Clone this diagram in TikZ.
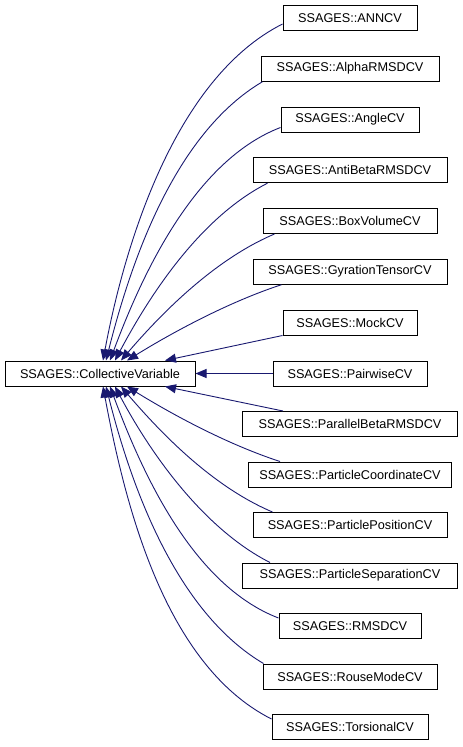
\documentclass[tikz,border=0pt]{standalone}
\usepackage{fontspec}
\setmainfont{Liberation Sans}
\usetikzlibrary{arrows.meta}
\definecolor{edgeblue}{RGB}{25,25,112}
\tikzset{
  cls/.style={draw=black, line width=1pt, minimum height=25pt, inner sep=0pt,
    font=\fontsize{12.7}{15}\selectfont},
  inh/.style={draw=edgeblue, line width=0.9pt, -{Triangle[length=11pt,width=9pt]}},
}
\begin{document}
\begin{tikzpicture}[x=1pt,y=-1pt]
  \useasboundingbox (0,0) rectangle (463,747);
  \node[cls, minimum width=190pt] (cv) at (100,373.5) {SSAGES::CollectiveVariable};
  \node[cls, minimum width=134pt] (ann) at (350,18) {SSAGES::ANNCV};
  \node[cls, minimum width=178pt] (alpha) at (350,68.7) {SSAGES::AlphaRMSDCV};
  \node[cls, minimum width=138pt] (angle) at (350,119.5) {SSAGES::AngleCV};
  \node[cls, minimum width=194pt] (antibeta) at (350,170.2) {SSAGES::AntiBetaRMSDCV};
  \node[cls, minimum width=174pt] (boxvol) at (350,221) {SSAGES::BoxVolumeCV};
  \node[cls, minimum width=194pt] (gyration) at (350,271.7) {SSAGES::GyrationTensorCV};
  \node[cls, minimum width=134pt] (mock) at (350,322.5) {SSAGES::MockCV};
  \node[cls, minimum width=154pt] (pairwise) at (350,373.5) {SSAGES::PairwiseCV};
  \node[cls, minimum width=215pt] (parallel) at (350,424) {SSAGES::ParallelBetaRMSDCV};
  \node[cls, minimum width=203pt] (pcoord) at (350,474.5) {SSAGES::ParticleCoordinateCV};
  \node[cls, minimum width=194pt] (ppos) at (350,525) {SSAGES::ParticlePositionCV};
  \node[cls, minimum width=215pt] (psep) at (350,575.5) {SSAGES::ParticleSeparationCV};
  \node[cls, minimum width=142pt] (rmsd) at (350,626) {SSAGES::RMSDCV};
  \node[cls, minimum width=174pt] (rouse) at (350,676.5) {SSAGES::RouseModeCV};
  \node[cls, minimum width=156pt] (torsional) at (350,727) {SSAGES::TorsionalCV};

  \draw[inh] ([yshift=-6pt]ann.west) .. controls +(-107,54) and +(22,-118) .. ([xshift=3pt]cv.north);
  \draw[inh] ([xshift=2pt]alpha.south west) .. controls +(-88,52) and +(25,-99) .. ([xshift=6pt]cv.north);
  \draw[inh] ([yshift=-8pt]angle.west) .. controls +(-86,33) and +(32,-86) .. ([xshift=10pt]cv.north);
  \draw[inh] ([xshift=15pt]antibeta.south west) .. controls +(-67,34) and +(35,-66) .. ([xshift=15pt]cv.north);
  \draw[inh] ([xshift=12pt]boxvol.south west) .. controls +(-59,25) and +(42,-49) .. ([xshift=21pt]cv.north);
  \draw[inh] ([xshift=29pt]gyration.south west) .. controls +(-52,17) and +(47,-29) .. ([xshift=27pt]cv.north);
  \draw[inh] (mock.south west) -- ([xshift=65pt]cv.north);
  \draw[inh] (pairwise.west) -- (cv.east);
  \draw[inh] ([xshift=41pt]parallel.north west) -- ([xshift=65pt]cv.south);
  \draw[inh] ([xshift=32pt]pcoord.north west) .. controls +(-52,-17) and +(47,29) .. ([xshift=27pt]cv.south);
  \draw[inh] ([xshift=20pt]ppos.north west) .. controls +(-59,-25) and +(42,49) .. ([xshift=21pt]cv.south);
  \draw[inh] ([xshift=28pt]psep.north west) .. controls +(-67,-34) and +(35,66) .. ([xshift=15pt]cv.south);
  \draw[inh] ([yshift=8pt]rmsd.west) .. controls +(-86,-33) and +(32,86) .. ([xshift=10pt]cv.south);
  \draw[inh] ([xshift=1pt]rouse.north west) .. controls +(-88,-52) and +(25,99) .. ([xshift=6pt]cv.south);
  \draw[inh] ([yshift=8pt]torsional.west) .. controls +(-107,-54) and +(22,118) .. ([xshift=3pt]cv.south);
\end{tikzpicture}
\end{document}
